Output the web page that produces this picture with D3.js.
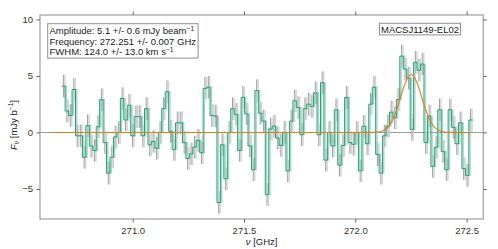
<!DOCTYPE html>
<html>
<head>
<meta charset="utf-8">
<script src="https://cdn.jsdelivr.net/npm/d3@7"></script>
<style>
  body { margin: 0; background: #fff; }
  text { font-family: "Liberation Sans", Arial, Helvetica, sans-serif; }
</style>
</head>
<body>
<div id="graph"></div>
<script>
// spectrum, mJy/beam per channel
const fluxValues = [
  4.1, 1.9, 1.5, 3.8, -0.3, -0.3, -2.2, 0.6, -1.2, -1.6,
  0.5, 2.9, -0.9, -3.6, -2.2, -0.4, 0.0, 3.0, 1.1, 2.4,
  -0.3, 1.4, 1.4, -0.3, 2.1, -1.1, -0.8, -1.4, 0.0, 2.1,
  3.6, 0.1, -1.5, 0.85, 0.85, -0.9, -2.3, -1.9, -1.3, -0.7,
  -1.8, 3.9, 4.0, 1.5, 1.45, -6.2, -1.1, -4.1, 0.0, 2.1,
  1.6, -1.6, 3.1, 1.65, -1.2, -3.3, 3.7, 1.7, 1.0, -5.5,
  0.3, 0.55, -0.5, -1.15, 0.0, -3.4, 1.0, 2.8, 2.2, -0.2,
  2.1, 2.5, 2.3, 3.5, -0.2, 4.4, -2.45, 0.0, -1.2, 2.0,
  -2.9, -1.15, 3.1, -0.9, -1.05, 0.0, -3.4, 0.55, -1.0, 2.5,
  4.0, -1.95, -3.6, -0.3, 0.55, 1.8, 1.3, 2.9, 6.75, 5.6,
  4.8, 0.27, 6.2, 5.5, 6.05, -0.9, 1.45, -3.0, -1.3, 2.0,
  -1.7, -3.3, 2.0, 0.45, -1.0, 0.85, -3.2, -3.8, 1.1
];
const chanStart = 270.681;   // GHz, low edge of first channel
const chanWidth = 0.0155;    // GHz
const rms = 1.0;             // mJy/beam per channel

// gaussian fit
const fitAmplitude = 5.1;
const fitCenter = 272.251;
const fitFwhmKms = 124.0;
const fitRange = [270.63, 272.525];

const xTicks = [271.0, 271.5, 272.0, 272.5];
const yTicks = [-5, 0, 5, 10];
const sourceName = "MACSJ1149-EL02";

const width = 498, height = 249;
const margin = {left: 40, right: 14.7, top: 15, bottom: 30};

const svg = d3.select('#graph').append('svg')
  .attr('width', width).attr('height', height);

const xScale = d3.scaleLinear()
  .domain([270.5835, 272.575])
  .range([margin.left, width - margin.right]);
const yScale = d3.scaleLinear()
  .domain([-7.66, 10.39])
  .range([height - margin.bottom, margin.top]);

const chans = fluxValues.map((v, i) => ({
  lo: chanStart + i * chanWidth,
  mid: chanStart + (i + 0.5) * chanWidth,
  v: v
}));

// zero line
svg.append('line')
  .attr('x1', xScale.range()[0]).attr('x2', xScale.range()[1])
  .attr('y1', yScale(0)).attr('y2', yScale(0))
  .attr('stroke', '#9a9a9a').attr('stroke-width', 1.1);

const plot = svg.append('g');

// error bars (light copy shifted, then dark)
function errBars(g, color, w, dx) {
  g.selectAll('line').data(chans).enter().append('line')
    .attr('x1', d => xScale(d.mid) + dx).attr('x2', d => xScale(d.mid) + dx)
    .attr('y1', d => yScale(d.v - rms)).attr('y2', d => yScale(d.v + rms))
    .attr('stroke', color).attr('stroke-width', w);
}
errBars(plot.append('g'), '#d4d4d4', 1.5, 1.5);
errBars(plot.append('g'), '#8e8e8e', 0.85, 0);

let stepPts = chans.map(d => [d.lo, d.v]);
stepPts.push([chanStart + fluxValues.length * chanWidth, fluxValues[fluxValues.length - 1]]);

let step = d3.line()
  .x(d => xScale(d[0]))
  .y(d => yScale(d[1]))
  .curve(d3.curveStepAfter);

plot.append('path')
  .datum(stepPts)
  .attr('d', step)
  .attr('transform', 'translate(1.3,0)')
  .attr('fill', 'none')
  .attr('stroke', '#a0dac5')
  .attr('stroke-width', 1.3);

plot.append('path')
  .datum(stepPts)
  .attr('d', step)
  .attr('fill', 'none')
  .attr('stroke', '#279c77')
  .attr('stroke-width', 1.0);

// model line
let sigma = fitFwhmKms / 299792.458 * fitCenter / 2.3548;
let model = d3.range(0, 401).map(i => {
  let f = fitRange[0] + (fitRange[1] - fitRange[0]) * i / 400;
  return [f, fitAmplitude * Math.exp(-0.5 * Math.pow((f - fitCenter) / sigma, 2))];
});
plot.append('path')
  .datum(model)
  .attr('d', d3.line().x(d => xScale(d[0])).y(d => yScale(d[1])))
  .attr('fill', 'none')
  .attr('stroke', '#e8781c')
  .attr('stroke-width', 1.1);

// frame
svg.append('rect')
  .attr('x', margin.left).attr('y', margin.top)
  .attr('width', width - margin.left - margin.right)
  .attr('height', height - margin.top - margin.bottom)
  .attr('fill', 'none').attr('stroke', '#a6a6a6').attr('stroke-width', 1.3);

function styleAxis(g) {
  g.select('.domain').remove();
  g.selectAll('.tick line').attr('stroke', '#555').attr('stroke-width', 0.9);
  g.selectAll('.tick text').attr('fill', '#333').style('font-size', '9.5px')
    .style('font-family', '"Liberation Sans", Arial, sans-serif');
}

svg.append('g')
  .attr('transform', `translate(0,${height - margin.bottom})`)
  .call(d3.axisBottom(xScale).tickValues(xTicks).tickFormat(d3.format('.1f')).tickSize(3.5).tickPadding(4.5))
  .call(styleAxis);
svg.append('g')
  .attr('transform', `translate(0,${margin.top})`)
  .call(d3.axisTop(xScale).tickValues(xTicks).tickFormat('').tickSize(3.5))
  .call(styleAxis);
svg.append('g')
  .attr('transform', `translate(${margin.left},0)`)
  .call(d3.axisLeft(yScale).tickValues(yTicks).tickFormat(d3.format('d')).tickSize(3.5).tickPadding(3.5))
  .call(styleAxis);
svg.append('g')
  .attr('transform', `translate(${width - margin.right},0)`)
  .call(d3.axisRight(yScale).tickValues(yTicks).tickFormat('').tickSize(3.5))
  .call(styleAxis);

// fit results box
let info = svg.append('g');
let infoLines = [
  ['Amplitude: ' + fitAmplitude.toFixed(1) + ' +/- 0.6 mJy beam', '\u22121'],
  ['Frequency: ' + fitCenter.toFixed(3) + ' +/- 0.007 GHz', null],
  ['FWHM: ' + fitFwhmKms.toFixed(1) + ' +/- 13.0 km s', '\u22121']
];
let infoRect = info.append('rect');
infoLines.forEach((l, i) => {
  let t = info.append('text')
    .attr('x', 49.5).attr('y', 34.3 + i * 10.5)
    .attr('fill', '#1a1a1a').style('font-size', '9.5px');
  t.append('tspan').text(l[0]);
  if (l[1]) t.append('tspan').attr('dy', -3.8).style('font-size', '6.7px').text(l[1]);
});
let bb = info.node().getBBox();
infoRect.attr('x', bb.x - 1.8).attr('y', bb.y - 0.8)
  .attr('width', bb.width + 3.6).attr('height', bb.height + 1.6)
  .attr('fill', '#fff').attr('stroke', '#8f8f8f').attr('stroke-width', 1);

let nameBox = svg.append('g');
let nameRect = nameBox.append('rect');
nameBox.append('text')
  .attr('x', 381).attr('y', 32.6)
  .attr('fill', '#1a1a1a').style('font-size', '9.5px')
  .text(sourceName);
let nb = nameBox.select('text').node().getBBox();
nameRect.attr('x', nb.x - 1.5).attr('y', nb.y - 0.3)
  .attr('width', nb.width + 3).attr('height', nb.height + 0.6)
  .attr('fill', '#fff').attr('stroke', '#8f8f8f').attr('stroke-width', 1);

// axis labels
let xl = svg.append('text')
  .attr('x', (margin.left + width - margin.right) / 2).attr('y', 244.5)
  .attr('text-anchor', 'middle').attr('fill', '#222').style('font-size', '9.5px');
xl.append('tspan').style('font-style', 'italic').text('\u03bd');
xl.append('tspan').text(' [GHz]');

let yl = svg.append('text')
  .attr('transform', `translate(17,${(margin.top + height - margin.bottom) / 2 + 8}) rotate(-90)`)
  .attr('text-anchor', 'middle').attr('fill', '#222').style('font-size', '9.5px');
yl.append('tspan').style('font-style', 'italic').text('F');
yl.append('tspan').attr('dy', 2.2).style('font-size', '6.7px').style('font-style', 'italic').text('\u03bd');
yl.append('tspan').attr('dy', -2.2).text(' [mJy b');
yl.append('tspan').attr('dy', -3.8).style('font-size', '6.7px').text('\u22121');
yl.append('tspan').attr('dy', 3.8).text(']');
</script>
</body>
</html>
